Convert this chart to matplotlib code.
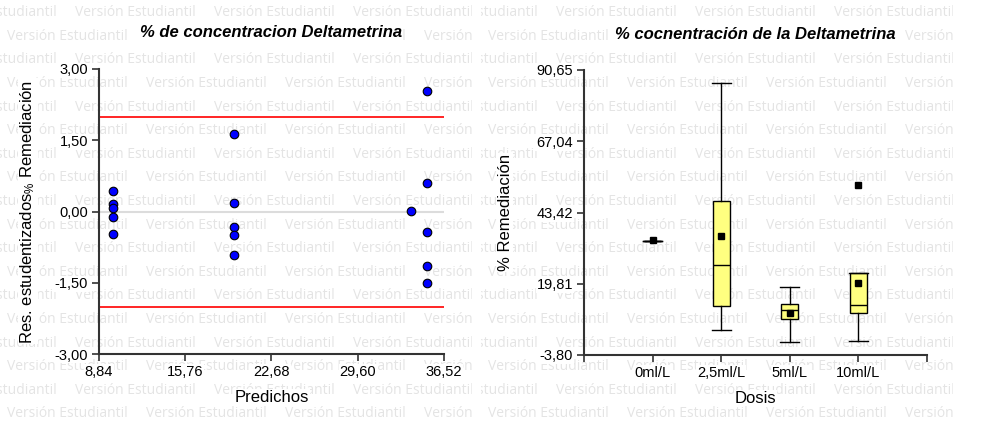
import matplotlib
matplotlib.use("Agg")
import matplotlib.pyplot as plt

plt.rcParams['font.family'] = ['Liberation Sans', 'DejaVu Sans']
plt.rcParams['mathtext.fontset'] = 'custom'
plt.rcParams['mathtext.rm'] = 'Liberation Sans'
plt.rcParams['mathtext.default'] = 'regular'

# left panel: studentized residuals vs predicted
predichos = [9.96] * 5 + [19.67] * 5 + [33.85] + [35.18] * 5
residuos = [0.44, 0.15, 0.07, -0.12, -0.47,
            1.63, 0.17, -0.33, -0.50, -0.92,
            0.02,
            2.54, 0.61, -0.44, -1.15, -1.50]
res_xticks = [8.84, 15.76, 22.68, 29.60, 36.52]
res_yticks = [-3.00, -1.50, 0.00, 1.50, 3.00]
limite = 2.0

# right panel: box plot per dose
dosis = ['0ml/L', '2,5ml/L', '5ml/L', '10ml/L']
q1 = [33.98, 12.44, 8.03, 10.22]
mediana = [33.98, 26.13, 11.00, 12.77]
q3 = [33.98, 47.33, 12.99, 23.27]
bigote_inf = [33.98, 4.49, 0.40, 0.84]
bigote_sup = [33.98, 86.44, 18.74, 23.27]
media = [34.21, 35.74, 10.22, 19.95]
atipicos = [[], [], [], [52.64]]
box_yticks = [-3.80, 19.81, 43.42, 67.04, 90.65]


def coma(v):
    return f"{v:.2f}".replace('.', ',')


W, H = 1001, 428
fig = plt.figure(figsize=(W / 100, H / 100), dpi=100)

# watermark "Versión Estudiantil", one clipped block per panel
marca = 'Versión Estudiantil'
rend = fig.canvas.get_renderer()
tmp = fig.text(0, 0, marca, fontsize=10, family='Open Sans')
marca_fs = 10 * 121 / tmp.get_window_extent(rend).width
tmp.remove()

for x0 in (0, 481):
    bg = fig.add_axes([x0 / W, 0, 472 / W, 1], zorder=0)
    bg.set_xlim(0, 472)
    bg.set_ylim(H, 0)
    bg.axis('off')
    for k in range(18):
        y = 12.7 + 23.6 * k
        start = -64 if k % 2 == 0 else 7
        for j in range(5):
            t = bg.text(start + 139 * j, y, marca, fontsize=marca_fs,
                        family='Open Sans', color='#e4e4e4',
                        ha='left', va='center')
            t.set_clip_box(bg.bbox)
            t.set_clip_on(True)

box = dict(facecolor='white', edgecolor='none', pad=0.6)
spine_c = '#333333'


def estilo(ax):
    ax.set_facecolor('none')
    for s in ('top', 'right'):
        ax.spines[s].set_visible(False)
    for s in ('left', 'bottom'):
        ax.spines[s].set_color(spine_c)
        ax.spines[s].set_linewidth(1.5)
    ax.tick_params(direction='out', length=5, width=1.2, color=spine_c,
                   labelsize=10.5, pad=3)


# ---- left panel
ax1 = fig.add_axes([99 / W, 1 - 354 / H, 345 / W, 285 / H], zorder=1)
estilo(ax1)
ax1.set_xlim(res_xticks[0], res_xticks[-1])
ax1.set_ylim(res_yticks[0], res_yticks[-1])
ax1.axhline(0, color='#dcdcdc', lw=1.5, zorder=1)
ax1.axhline(limite, color='red', lw=1.2, zorder=2)
ax1.axhline(-limite, color='red', lw=1.2, zorder=2)
ax1.scatter(predichos, residuos, s=38, color='#0000ff', edgecolor='black',
            linewidth=0.8, zorder=3)
ax1.set_xticks(res_xticks, [coma(v) for v in res_xticks])
ax1.set_yticks(res_yticks, [coma(v) for v in res_yticks])
ax1.set_xlabel('Predichos', fontsize=12, va='center', bbox=box)
ax1.xaxis.set_label_coords(0.5, -0.151)
ax1.set_ylabel('Res. estudentizados$_{\\%}$ Remediación', fontsize=12,
               va='center', bbox=box)
ax1.yaxis.set_label_coords(-0.206, 0.5)
ax1.text(0.5, 1.128, '% de concentracion Deltametrina', transform=ax1.transAxes,
         ha='center', va='center', fontsize=12, fontweight='bold',
         fontstyle='italic', bbox=box)

# ---- right panel
ax2 = fig.add_axes([584 / W, 1 - 355 / H, 343 / W, 285 / H], zorder=1)
estilo(ax2)
stats = []
for i in range(len(dosis)):
    stats.append(dict(label=dosis[i], q1=q1[i], med=mediana[i], q3=q3[i],
                      whislo=bigote_inf[i], whishi=bigote_sup[i],
                      mean=media[i], fliers=atipicos[i]))
pos = list(range(1, len(dosis) + 1))
ax2.bxp(stats, positions=pos, widths=0.25, capwidths=0.28, patch_artist=True,
        showmeans=True,
        boxprops=dict(facecolor='#ffff80', edgecolor='black', linewidth=1),
        medianprops=dict(color='black', linewidth=1),
        whiskerprops=dict(color='black', linewidth=1),
        capprops=dict(color='black', linewidth=1),
        meanprops=dict(marker='s', markerfacecolor='black',
                       markeredgecolor='black', markersize=5),
        flierprops=dict(marker='s', markerfacecolor='black',
                        markeredgecolor='black', markersize=5))
ax2.set_xlim(0, len(dosis) + 1)
ax2.set_ylim(box_yticks[0], box_yticks[-1])
ax2.set_xticks([0] + pos + [len(dosis) + 1], [''] + dosis + [''])
ax2.set_yticks(box_yticks, [coma(v) for v in box_yticks])
ax2.set_xlabel('Dosis', fontsize=12, va='center', bbox=box)
ax2.xaxis.set_label_coords(0.5, -0.151)
ax2.set_ylabel('% Remediación', fontsize=12, va='center', bbox=box)
ax2.yaxis.set_label_coords(-0.230, 0.5)
ax2.text(0.5, 1.125, '% cocnentración de la Deltametrina', transform=ax2.transAxes,
         ha='center', va='center', fontsize=12, fontweight='bold',
         fontstyle='italic', bbox=box)

for ax in (ax1, ax2):
    for t in ax.get_xticklabels() + ax.get_yticklabels():
        if t.get_text():
            t.set_bbox(box)

fig.savefig('out.png', dpi=100, facecolor='white')
